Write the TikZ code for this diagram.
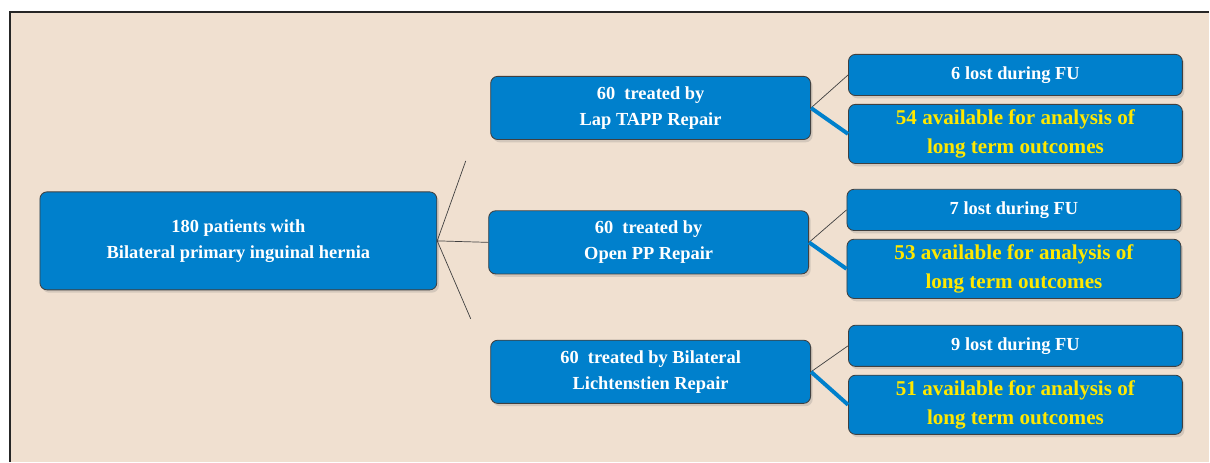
\documentclass[tikz,border=0pt]{standalone}
\usepackage{fontspec}
\setmainfont{Liberation Serif}
\usetikzlibrary{shadows}
\definecolor{boxblue}{RGB}{0,128,204}
\definecolor{panel}{RGB}{240,224,208}
\definecolor{txtyellow}{RGB}{255,232,0}

\begin{document}
\begin{tikzpicture}[x=0.025cm,y=-0.025cm,
      box/.style={rectangle,rounded corners=5pt,draw=black!75,line width=0.6pt,
        fill=boxblue,align=center,inner sep=0pt,text=white,
        font=\fontsize{13.1}{18.7}\selectfont\bfseries,
        drop shadow={shadow xshift=1.5pt,shadow yshift=-2pt,opacity=0.25}},
      rootbox/.style={box,minimum width=9.925cm,minimum height=2.45cm},
      treatbox/.style={box,minimum width=8cm,minimum height=1.58cm},
      lostbox/.style={box,minimum width=8.35cm,minimum height=1.03cm},
      availbox/.style={box,minimum width=8.35cm,minimum height=1.48cm,
        text=txtyellow,font=\fontsize{15}{20.8}\selectfont\bfseries},
      thin/.style={draw=black!75,line width=0.5pt},
      thickblue/.style={draw=boxblue,line width=2.8pt}]
      \fill[white] (0,0) rectangle (1210,462);
      \fill[panel] (10,12) rectangle (1210,462);
      \draw[line width=1pt,black!85] (10,462) -- (10,12) -- (1210,12);

      \node[rootbox] (root) at (238.5, 241) {180 patients with\\Bilateral primary inguinal hernia};

      \node[treatbox] (tapp) at (651, 108) {60\ \ treated by\\Lap TAPP Repair};
      \node[treatbox] (open) at (649, 242.5) {60\ \ treated by\\Open PP Repair};
      \node[treatbox] (lich) at (651, 372) {60\ \ treated by Bilateral\\Lichtenstien Repair};

      \node[lostbox] (lost1) at (1016, 75) {6 lost during FU};
      \node[availbox] (avail1) at (1016, 134) {54 available for analysis of\\long term outcomes};
      \node[lostbox] (lost2) at (1014.5, 210) {7 lost during FU};
      \node[availbox] (avail2) at (1014.5, 269) {53 available for analysis of\\long term outcomes};
      \node[lostbox] (lost3) at (1016, 346) {9 lost during FU};
      \node[availbox] (avail3) at (1016, 405) {51 available for analysis of\\long term outcomes};

      \coordinate (up) at (466, 161);
      \coordinate (down) at (471, 319);

      \path[thin]
      (root.east) edge (up)
      (root.east) edge (open.west)
      (root.east) edge (down)
      (tapp.east) edge (lost1.west)
      (open.east) edge (lost2.west)
      (lich.east) edge (lost3.west)
      ;
      \path[thickblue]
      (tapp.east) edge (avail1.west)
      (open.east) edge (avail2.west)
      (lich.east) edge (avail3.west)
      ;
      \end{tikzpicture}
\end{document}
